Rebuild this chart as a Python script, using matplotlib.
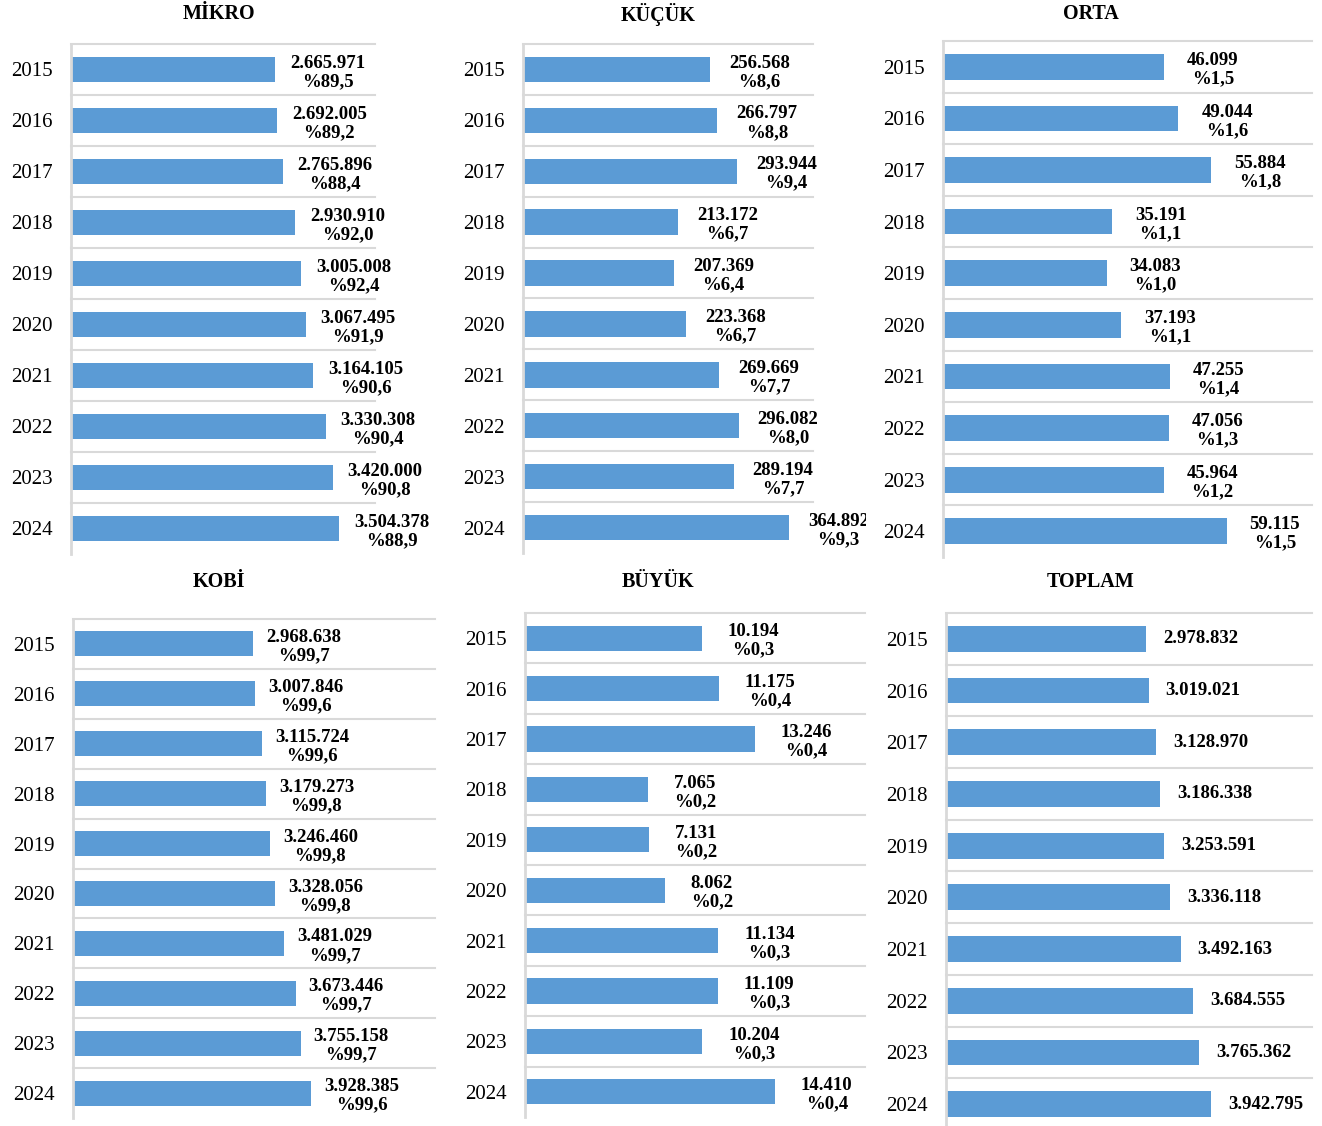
import matplotlib
matplotlib.use("Agg")
import matplotlib.pyplot as plt
from matplotlib.patches import Rectangle

plt.rcParams['font.family'] = ['Liberation Serif', 'DejaVu Serif']

years = [2015, 2016, 2017, 2018, 2019, 2020, 2021, 2022, 2023, 2024]

mikro = [2665971, 2692005, 2765896, 2930910, 3005008, 3067495, 3164105, 3330308, 3420000, 3504378]
mikro_pct = [89.5, 89.2, 88.4, 92.0, 92.4, 91.9, 90.6, 90.4, 90.8, 88.9]

kucuk = [256568, 266797, 293944, 213172, 207369, 223368, 269669, 296082, 289194, 364892]
kucuk_pct = [8.6, 8.8, 9.4, 6.7, 6.4, 6.7, 7.7, 8.0, 7.7, 9.3]

orta = [46099, 49044, 55884, 35191, 34083, 37193, 47255, 47056, 45964, 59115]
orta_pct = [1.5, 1.6, 1.8, 1.1, 1.0, 1.1, 1.4, 1.3, 1.2, 1.5]

kobi = [2968638, 3007846, 3115724, 3179273, 3246460, 3328056, 3481029, 3673446, 3755158, 3928385]
kobi_pct = [99.7, 99.6, 99.6, 99.8, 99.8, 99.8, 99.7, 99.7, 99.7, 99.6]

buyuk = [10194, 11175, 13246, 7065, 7131, 8062, 11134, 11109, 10204, 14410]
buyuk_pct = [0.3, 0.4, 0.4, 0.2, 0.2, 0.2, 0.3, 0.3, 0.3, 0.4]

toplam = [2978832, 3019021, 3128970, 3186338, 3253591, 3336118, 3492163, 3684555, 3765362, 3942795]

titles = ["MİKRO", "KÜÇÜK", "ORTA", "KOBİ", "BÜYÜK", "TOPLAM"]

W, H = 1322, 1126
BAR = "#5B9BD5"
GRID = "#D9D9D9"

# layout in pixels: left, right, top, bottom, xmax, label offset, title x, title y
layout = [
    (71, 375, 44, 554, 3975000, 15, 219, 14),
    (523, 813, 44, 553, 398000, 19, 658, 14),
    (943, 1312, 41, 557, 76900, 23, 1091, 14),
    (73, 435, 619, 1118, 5970000, 13, 219, 582),
    (525, 865, 613, 1117, 19600, 26, 658, 582),
    (946, 1312, 613, 1130, 5450000, 17, 1091, 582),
]


def fmt_num(v):
    return f"{v:,}".replace(",", ".")


def fmt_pct(p):
    return "%" + f"{p:.1f}".replace(".", ",")


series = [
    (mikro, mikro_pct), (kucuk, kucuk_pct), (orta, orta_pct),
    (kobi, kobi_pct), (buyuk, buyuk_pct), (toplam, None),
]

fig = plt.figure(figsize=(W / 100, H / 100), dpi=100)
clip = Rectangle((0, 0), 866 / W, 1, transform=fig.transFigure, visible=False)
fig.add_artist(clip)

for (vals, pcts), title, (l, r, t, b, xmax, off, tx, ty) in zip(series, titles, layout):
    ax = fig.add_axes([l / W, 1 - b / H, (r - l) / W, (b - t) / H])
    ax.set_facecolor("none")
    ys = list(range(len(years)))
    ax.barh(ys, vals, height=0.5, color=BAR, zorder=2)
    ax.set_ylim(len(years) - 0.5, -0.5)
    ax.set_xlim(0, xmax)
    for k in range(len(years)):
        ax.axhline(k - 0.5, color=GRID, lw=1.5, zorder=1, clip_on=False)
    ax.set_yticks(ys)
    ax.set_yticklabels([str(y) for y in years], fontsize=15)
    ax.tick_params(axis='y', length=0, pad=13)
    ax.set_xticks([])
    for s in ["top", "right", "bottom"]:
        ax.spines[s].set_visible(False)
    ax.spines["left"].set_color(GRID)
    ax.spines["left"].set_linewidth(2)

    for k, v in enumerate(vals):
        label = fmt_num(v) if pcts is None else fmt_num(v) + "\n" + fmt_pct(pcts[k])
        txt = ax.annotate(label, (v, k), xytext=(off * 0.72, 0 if pcts is None else -2),
                          textcoords="offset points", ha="left", va="center",
                          multialignment="center", fontsize=13.5, fontweight="bold",
                          linespacing=1.1, annotation_clip=False)
        if title == "KÜÇÜK":
            txt.set_clip_on(True)
            txt.set_clip_path(clip)

    fig.text(tx / W, 1 - ty / H, title, ha="center", va="center",
             fontsize=14.5, fontweight="bold")

fig.savefig("out.png", dpi=100)
